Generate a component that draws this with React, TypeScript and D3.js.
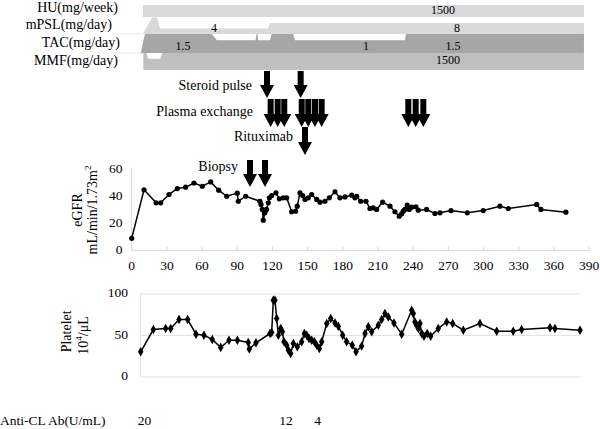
import React from "react";
import * as d3 from "d3";

// ---------- DATA ----------
const egfrDays = [0, 10.5, 20.8, 24.7, 31.8, 38.9, 46, 53.1, 60.2, 67.4, 74.2, 81, 90, 90.9, 97.2, 109.4, 110.3, 111.4, 112.2, 113.6, 115, 116.5, 117.4, 119.4, 123, 125.9, 129.3, 132.2, 136.4, 139.8, 141.2, 143.5, 145.8, 147.8, 150.6, 153.5, 157.8, 160.6, 164.8, 168.5, 173.4, 177.6, 181.9, 187.6, 190.4, 191.9, 195.3, 199.8, 203.2, 206, 208.9, 214, 220.3, 224.5, 228.2, 230.2, 231.6, 233, 235, 236.7, 238.8, 242.4, 244.4, 251.5, 258.6, 262.9, 272.3, 286.2, 299.8, 314, 321.2, 345.4, 349, 370.3];
const egfrValues = [9, 45, 35.3, 35.3, 41.5, 45.9, 46.9, 50, 47.6, 50.8, 44.7, 40.2, 42.5, 36.5, 40.2, 36.5, 34, 30.4, 22.5, 27.9, 30.4, 35.3, 39, 40.7, 42.7, 38.3, 39, 39, 28.7, 29.1, 32.8, 42.7, 40.7, 37.8, 39, 41.5, 37.8, 35.8, 36.5, 39, 43.5, 39, 39.7, 41, 39, 40.2, 36.5, 36.5, 31.1, 31.6, 30.4, 35.8, 32.8, 28.7, 25.4, 27.2, 29.1, 30.4, 33.6, 30.4, 32.1, 32.4, 29.9, 30.4, 27.4, 27.9, 29.6, 27.9, 29.6, 32.8, 31.1, 34.1, 30.4, 28.4];

const pltDays = [0, 10.8, 21.3, 25.6, 32.7, 40.1, 47.2, 54, 61.1, 68.3, 75.4, 82.5, 91.8, 92.7, 98.4, 110.4, 111.8, 113.2, 114.6, 116.1, 117.5, 119.5, 120.9, 122.3, 124.6, 126, 128, 130.3, 133.7, 137.4, 139.7, 141.7, 143.7, 146, 148.2, 150.2, 152.5, 154.5, 158.8, 162.2, 165.9, 168.7, 172.4, 175.8, 180.6, 183.8, 188.6, 191.5, 194.3, 197.2, 202.8, 205.7, 208.5, 211.4, 216.2, 222.8, 231.3, 232.7, 234.1, 235.6, 237, 238.4, 239.9, 241.8, 244.6, 247.5, 254, 261.2, 266.3, 275.4, 289.6, 303.9, 318, 325.2, 349.4, 353.6, 375];
const pltValues = [30.4, 57.2, 58.4, 58.4, 69.2, 69.2, 51.6, 50.4, 45.2, 35.6, 44.4, 44.4, 41.6, 33.6, 41.2, 52.4, 53.6, 92.4, 92.4, 70.4, 50.4, 58.4, 54.4, 42.4, 38.4, 32.4, 28.4, 40.4, 36.4, 42.4, 52.4, 50.4, 46.4, 44.4, 42.4, 38.4, 34.4, 42.4, 64.4, 70.4, 65.2, 61.2, 50.4, 42.4, 38.4, 30.4, 37.2, 52.4, 60.4, 54.4, 62.4, 69.2, 76.4, 72.4, 65.2, 51.6, 80.4, 76.4, 66.4, 62.4, 58.4, 64.4, 52.4, 49.2, 52.4, 49.2, 58.4, 66.4, 64.4, 56.4, 64.4, 55.2, 55.2, 57.2, 59.2, 58.4, 56.4];

const huDays = [9.6, 385.7];
const huValues = [1500, 1500];
const mpslDays = [9.6, 17.3, 21.6, 24.1, 116.2, 117.9, 385.7];
const mpslValues = [0, 12, 12, 4, 4, 8, 8];
const tacDays = [7.7, 11.3, 68.2, 72.7, 105.6, 106.4, 107.1, 108, 117.9, 119.4, 137.8, 139.3, 233.1, 233.9, 385.7];
const tacValues = [0, 1.5, 1.5, 1, 1, 1.5, 1.5, 1, 1, 1.5, 1.5, 1, 1, 1.5, 1.5];
const mmfDays = [9.9, 12.5, 14, 24.5, 26, 385.7];
const mmfValues = [1500, 1500, 1000, 1000, 1500, 1500];

const bandNames = ["HU(mg/week)", "mPSL(mg/day)", "TAC(mg/day)", "MMF(mg/day)"];
const bandNotes = [
  { band: 0, day: 265.5, text: "1500" },
  { band: 1, day: 70.2, text: "4" },
  { band: 1, day: 277.4, text: "8" },
  { band: 2, day: 43.7, text: "1.5" },
  { band: 2, day: 199.8, text: "1" },
  { band: 2, day: 274, text: "1.5" },
  { band: 3, day: 269.7, text: "1500" },
];

const steroidPulseDays = [115.4, 144.1];
const plasmaExchangeDays = [118.5, 124.5, 130.1, 145, 150.6, 156.3, 162, 235.9, 242.2, 248.7];
const rituximabDays = [147.8];
const biopsyDays = [100.9, 113.7];

const egfrXTicks = [0, 30, 60, 90, 120, 150, 180, 210, 240, 270, 300, 330, 360, 390];
const egfrYTicks = [0, 20, 40, 60];
const pltYTicks = [0, 50, 100];

const antiClLabel = "Anti-CL Ab(U/mL)";
const antiClDays = [11, 131.5, 158.5];
const antiClValues = ["20", "12", "4"];

// ---------- LAYOUT ----------
const W = 600;
const H = 429;
const FONT = "'Liberation Serif', 'Times New Roman', serif";

export default function App() {
  const x = d3.scaleLinear().domain([0, 390]).range([131.7, 589]);
  const yE = d3.scaleLinear().domain([0, 60]).range([250.5, 169.5]);
  const xP = d3.scaleLinear().domain([0, 375]).range([140.7, 580]);
  const yP = d3.scaleLinear().domain([0, 100]).range([377, 294]);

  const bandScales = [
    d3.scaleLinear().domain([0, 1500]).range([17, 5]),
    d3.scaleLinear().domain([0, 8]).range([34, 23]),
    d3.scaleLinear().domain([0, 1.5]).range([53, 34]),
    d3.scaleLinear().domain([0, 1500]).range([70, 53]),
  ];
  const bandData = [
    huDays.map((d, i) => [d, huValues[i]]),
    mpslDays.map((d, i) => [d, mpslValues[i]]),
    tacDays.map((d, i) => [d, tacValues[i]]),
    mmfDays.map((d, i) => [d, mmfValues[i]]),
  ];
  const bandColors = ["#d9d9d9", "#d9d9d9", "#a6a6a6", "#bfbfbf"];
  const bandLabelY = [9, 26, 44, 62];
  const bandLabelRight = [118, 112, 120, 118];
  const bandNoteY = [11, 29, 47, 61];

  const areaFor = (s: d3.ScaleLinear<number, number>) =>
    d3
      .area<number[]>()
      .x((p) => x(p[0]))
      .y0(s(0))
      .y1((p) => s(p[1]));

  const egfrPts = egfrDays.map((d, i) => [d, egfrValues[i]]);
  const pltPts = pltDays.map((d, i) => [d, pltValues[i]]);
  const egfrLine = d3.line<number[]>().x((p) => x(p[0])).y((p) => yE(p[1]));
  const pltLine = d3.line<number[]>().x((p) => xP(p[0])).y((p) => yP(p[1]));
  const diamond = d3.symbol().type(d3.symbolDiamond).size(26)();

  const arrow = (cx: number, top: number, len: number) => {
    const sw = 3;
    const hw = 7;
    const hl = 13;
    const sb = top + len - hl;
    return `M${cx - sw},${top}L${cx + sw},${top}L${cx + sw},${sb}L${cx + hw},${sb}L${cx},${top + len}L${cx - hw},${sb}L${cx - sw},${sb}Z`;
  };

  const arrowRows = [
    { label: "Steroid pulse", days: steroidPulseDays, top: 71, len: 27, labelRight: 252, labelY: 87 },
    { label: "Plasma exchange", days: plasmaExchangeDays, top: 99, len: 28, labelRight: 253, labelY: 113 },
    { label: "Rituximab", days: rituximabDays, top: 127, len: 28, labelRight: 293, labelY: 138 },
    { label: "Biopsy", days: biopsyDays, top: 160, len: 27, labelRight: 238, labelY: 168 },
  ];

  return (
    <svg
      width={W}
      height={H}
      viewBox={`0 0 ${W} ${H}`}
      style={{ position: "absolute", left: 0, top: 0, background: "#fff" }}
      fontFamily={FONT}
    >
      <rect x={0} y={0} width={W} height={H} fill="#fff" />

      {/* faint band guide lines */}
      <line x1={113} x2={142} y1={34} y2={34} stroke="#e6e6e6" strokeWidth={1} />
      <line x1={113} x2={142} y1={53} y2={53} stroke="#e6e6e6" strokeWidth={1} />

      {/* treatment bands */}
      {bandData.map((data, i) => (
        <path key={i} d={areaFor(bandScales[i])(data) || ""} fill={bandColors[i]} />
      ))}
      {bandNames.map((t, i) => (
        <text key={t} x={bandLabelRight[i]} y={bandLabelY[i]} textAnchor="end" dominantBaseline="middle" fontSize={14}>
          {t}
        </text>
      ))}
      {bandNotes.map((n, i) => (
        <text key={i} x={x(n.day)} y={bandNoteY[n.band]} textAnchor="middle" dominantBaseline="middle" fontSize={12}>
          {n.text}
        </text>
      ))}

      {/* treatment arrows */}
      {arrowRows.map((r) => (
        <g key={r.label}>
          <text x={r.labelRight} y={r.labelY} textAnchor="end" dominantBaseline="middle" fontSize={14}>
            {r.label}
          </text>
          {r.days.map((d, i) => (
            <path key={i} d={arrow(x(d), r.top, r.len)} fill="#000" />
          ))}
        </g>
      ))}

      {/* eGFR chart */}
      <line x1={x(0)} x2={x(0)} y1={yE(60) - 2} y2={yE(0)} stroke="#d9d9d9" strokeWidth={1} />
      <line x1={x(0)} x2={x(390)} y1={yE(0)} y2={yE(0)} stroke="#d9d9d9" strokeWidth={1} />
      {egfrXTicks.map((t) => (
        <g key={t}>
          <line x1={x(t)} x2={x(t)} y1={yE(0) - 4} y2={yE(0)} stroke="#d9d9d9" strokeWidth={1} />
          <text x={x(t)} y={266.5} textAnchor="middle" dominantBaseline="middle" fontSize={13.5}>
            {t}
          </text>
        </g>
      ))}
      {egfrYTicks.map((t) => (
        <text key={t} x={122.5} y={yE(t)} textAnchor="end" dominantBaseline="middle" fontSize={13.5}>
          {t}
        </text>
      ))}
      <text transform={`translate(79,${yE(30)}) rotate(-90)`} textAnchor="middle" dominantBaseline="middle" fontSize={14}>
        eGFR
      </text>
      <text transform={`translate(94,${yE(30)}) rotate(-90)`} textAnchor="middle" dominantBaseline="middle" fontSize={14}>
        mL/min/1.73m<tspan baselineShift="super" fontSize={9}>2</tspan>
      </text>
      <path d={egfrLine(egfrPts) || ""} fill="none" stroke="#000" strokeWidth={1.5} />
      {egfrPts.map((p, i) => (
        <circle key={i} cx={x(p[0])} cy={yE(p[1])} r={2.6} fill="#000" />
      ))}

      {/* platelet chart */}
      {pltYTicks.map((t) => (
        <g key={t}>
          <line x1={xP(0)} x2={xP(375)} y1={yP(t)} y2={yP(t)} stroke="#e3e3e3" strokeWidth={1} />
          <text x={128} y={yP(t)} textAnchor="end" dominantBaseline="middle" fontSize={13.5}>
            {t}
          </text>
        </g>
      ))}
      <line x1={xP(0)} x2={xP(0)} y1={yP(100)} y2={yP(0)} stroke="#e3e3e3" strokeWidth={1} />
      <text transform={`translate(68,${yP(55)}) rotate(-90)`} textAnchor="middle" dominantBaseline="middle" fontSize={14}>
        Platelet
      </text>
      <text transform={`translate(85,${yP(50)}) rotate(-90)`} textAnchor="middle" dominantBaseline="middle" fontSize={14}>
        10<tspan baselineShift="super" fontSize={9}>4</tspan>/μL
      </text>
      <path d={pltLine(pltPts) || ""} fill="none" stroke="#000" strokeWidth={1.5} />
      {pltPts.map((p, i) => (
        <path key={i} d={diamond || ""} transform={`translate(${xP(p[0])},${yP(p[1])})`} fill="#000" />
      ))}

      {/* anti-CL antibodies */}
      <text x={0} y={422} dominantBaseline="middle" fontSize={13.5}>
        {antiClLabel}
      </text>
      {antiClDays.map((d, i) => (
        <text key={i} x={x(d)} y={422} textAnchor="middle" dominantBaseline="middle" fontSize={13.5}>
          {antiClValues[i]}
        </text>
      ))}
    </svg>
  );
}
